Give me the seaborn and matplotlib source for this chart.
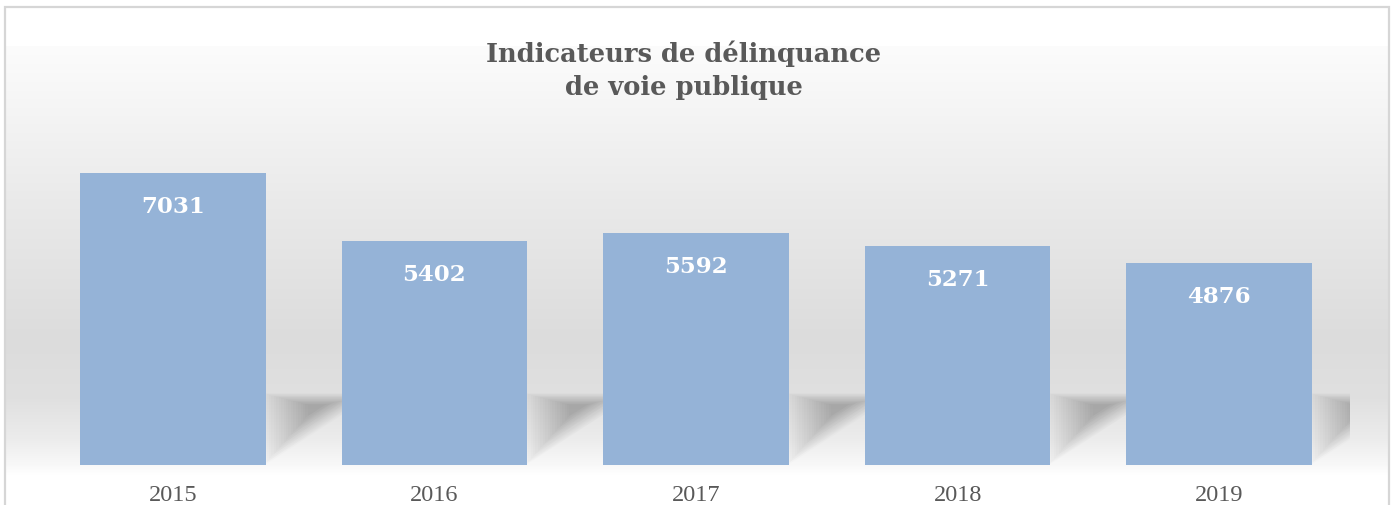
import numpy as np
import pandas as pd
import matplotlib
matplotlib.use("Agg")
import matplotlib.pyplot as plt
import seaborn as sns
from matplotlib.patches import Polygon
from matplotlib.colors import to_rgb

years = ["2015", "2016", "2017", "2018", "2019"]
values = [7031, 5402, 5592, 5271, 4876]
title_lines = ["Indicateurs de délinquance", "de voie publique"]

sns.set_theme(style="white")
plt.rcParams['font.family'] = ['Liberation Serif', 'DejaVu Serif']

W, H = 1398, 506
fig = plt.figure(figsize=(W / 100, H / 100), dpi=100)
fig.patch.set_facecolor('white')

# ---- background panel with vertical gradient ----
bg = fig.add_axes([0, 0, 1, 1], zorder=0)
bg.set_xlim(0, W)
bg.set_ylim(H, 0)
bg.axis('off')
stop_y = [47, 100, 200, 340, 400, 440, 466, 476]
stop_c = ['#FCFCFC', '#F6F6F6', '#EAEAEA', '#DCDCDC', '#E0E0E0', '#ECECEC', '#F8F8F8', '#FFFFFF']
ys = np.arange(47, 477)
rgb = np.array([to_rgb(c) for c in stop_c])
grad = np.stack([np.interp(ys, stop_y, rgb[:, k]) for k in range(3)], axis=1)
img = np.repeat(grad[:, None, :], 2, axis=1)
bg.imshow(img, extent=(6, 1388, 476, 47), aspect='auto', interpolation='bilinear')
bg.plot([5, 5, 1389, 1389], [506, 8, 8, 506], color='#D6D6D6', lw=1.6, solid_joinstyle='miter')

# ---- bar chart ----
ax = fig.add_axes([42 / W, 40 / H, 1308 / W, 332 / H], zorder=1)
ax.patch.set_alpha(0)
df = pd.DataFrame({"year": years, "value": values})
sns.barplot(data=df, x="year", y="value", ax=ax, color='#95B3D7', saturation=1,
            width=0.71, zorder=3, errorbar=None, linewidth=0, edgecolor='none')
ax.set_xlim(-0.5, 4.5)
ax.set_ylim(0, 8000)

# soft perspective shadows behind bars (derived from bar geometry)
fig.canvas.draw()
inv = ax.transData.inverted()
shape = np.array([(-4, -2), (-4, 72), (110, 72), (110, 72)], dtype=float)
cen = np.array([50.0, 58.0])
for p in ax.patches[:len(values)]:
    x1 = p.get_x() + p.get_width()
    base = ax.transData.transform((x1, 0))
    for i in range(20):
        s = 1 - i * 0.045
        pts = cen + (shape - cen) * s
        dat = inv.transform(pts + base)
        ax.add_patch(Polygon(dat, closed=True, facecolor='black', edgecolor='none',
                             alpha=0.012, zorder=2))

# value labels
for p, v in zip(ax.patches[:len(values)], values):
    ax.annotate(f"{v}", xy=(p.get_x() + p.get_width() / 2, v), xytext=(0, -33),
                textcoords='offset pixels', ha='center', va='center',
                color='white', fontweight='bold', fontsize=16.5, zorder=5,
                family=['DejaVu Serif'])

ax.set_xlabel('')
ax.set_ylabel('')
ax.set_yticks([])
ax.tick_params(axis='x', length=0, pad=14, labelsize=17.5, labelcolor='#595959')
sns.despine(ax=ax, left=True, bottom=True)

for line, yb in zip(title_lines, [62, 95]):
    fig.text(684 / W, 1 - yb / H, line, ha='center', va='baseline', fontsize=18.5,
             fontweight='bold', color='#595959', family=['DejaVu Serif'])

fig.savefig('out.png', dpi=100)
